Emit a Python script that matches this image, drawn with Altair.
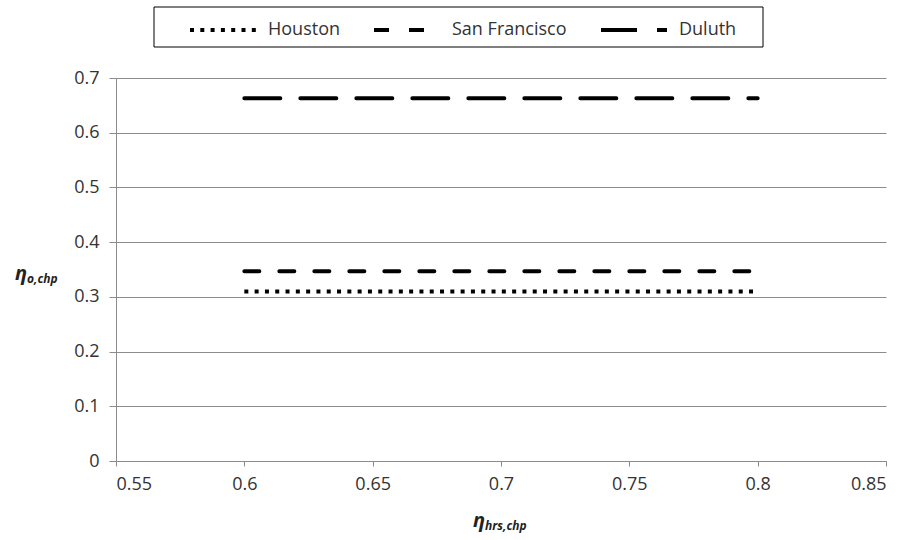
import altair as alt
import pandas as pd

cities = ["Houston", "San Francisco", "Duluth"]
x_values = [0.6, 0.65, 0.7, 0.75, 0.8]
houston = [0.31, 0.31, 0.31, 0.31, 0.31]
san_francisco = [0.347, 0.347, 0.347, 0.347, 0.347]
duluth = [0.663, 0.663, 0.663, 0.663, 0.663]
x_ticks = [0.55, 0.6, 0.65, 0.7, 0.75, 0.8, 0.85]
y_ticks = [0, 0.1, 0.2, 0.3, 0.4, 0.5, 0.6, 0.7]

rows = []
for city, vals in zip(cities, [houston, san_francisco, duluth]):
    for xv, yv in zip(x_values, vals):
        rows.append({"x": xv, "y": yv, "city": city})
df = pd.DataFrame(rows)

FONT = "Open Sans"
GRAY = "#8c8c8c"
one = pd.DataFrame({"a": [0]})

x_enc = alt.X("x:Q", scale=alt.Scale(domain=[0.55, 0.85], nice=False, zero=False),
              axis=alt.Axis(values=x_ticks, format="~g", title=None, grid=False,
                            tickSize=5, labelPadding=9))
y_enc = alt.Y("y:Q", scale=alt.Scale(domain=[0, 0.7], nice=False),
              axis=alt.Axis(values=y_ticks, format="~g", title=None, grid=True,
                            tickSize=7, labelPadding=10))
dash_enc = alt.StrokeDash(
    "city:N",
    scale=alt.Scale(domain=cities, range=[[4, 6.3], [15, 20], [36, 20]]),
    legend=alt.Legend(orient="none", legendX=72, legendY=-83, direction="horizontal",
                      title=None, symbolType="stroke", symbolSize=4356,
                      symbolStrokeWidth=4, symbolStrokeColor="black",
                      labelFont=FONT, labelFontSize=18, labelColor="#333",
                      labelOffset=10, columnPadding=26, padding=0),
)

dotted = alt.Chart(df).transform_filter(alt.datum.city == "Houston").mark_line(
    color="black", strokeWidth=4, strokeCap="butt"
).encode(x=x_enc, y=y_enc, strokeDash=dash_enc)

dashed = alt.Chart(df).transform_filter(alt.datum.city != "Houston").mark_line(
    color="black", strokeWidth=4, strokeCap="round"
).encode(x=x_enc, y=y_enc, strokeDash=dash_enc)

box = alt.Chart(one).mark_rect(fill="white", stroke="black", strokeWidth=1).encode(
    x=alt.value(38), x2=alt.value(647), y=alt.value(-71), y2=alt.value(-31)
)


def txt(s, x, y, size):
    return alt.Chart(one).mark_text(text=s, font=FONT, fontSize=size, fontWeight="bold",
                                    fontStyle="italic", align="left", baseline="alphabetic",
                                    color="#222").encode(x=alt.value(x), y=alt.value(y))


titles = [
    txt("η", -101, 202, 20), txt("o,chp", -89, 205, 12),
    txt("η", 357, 449, 20), txt("hrs,chp", 369, 452, 12),
]

chart = alt.layer(box, dotted, dashed, *titles).properties(
    width=770, height=383,
    autosize=alt.AutoSizeParams(type="none"),
    padding={"left": 116, "top": 78, "right": 25, "bottom": 79},
).configure_view(strokeWidth=0).configure_axis(
    gridColor=GRAY, domainColor=GRAY, tickColor=GRAY, gridWidth=1, domainWidth=1,
    labelFont=FONT, labelFontSize=18, labelColor="#333",
)

chart.save("out.html", embed_options={"renderer": "svg", "actions": False})
